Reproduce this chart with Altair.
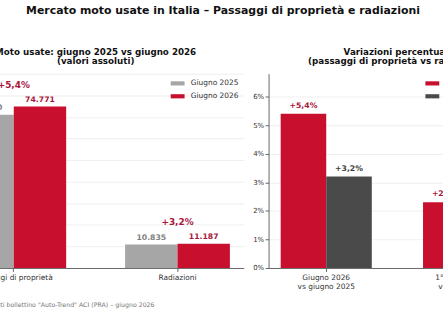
import altair as alt
import pandas as pd

FONT = "DejaVu Sans"

# --- Valori assoluti: moto usate, giugno 2025 vs giugno 2026 ---
categorie = ["Passaggi di proprietà", "Radiazioni"]
anni = ["Giugno 2025", "Giugno 2026"]
giugno_2025 = [70940, 10835]
giugno_2026 = [74771, 11187]
variazione_annua = [5.4, 3.2]

# --- Variazioni percentuali per periodo ---
periodi = ["Giugno 2026\nvs giugno 2025", "1° semestre 2026\nvs 1° sem. 2025"]
serie = ["Passaggi di proprietà", "Radiazioni"]
var_passaggi = [5.4, 2.3]
var_radiazioni = [3.2, 1.9]

# axis ticks
tick_abs = [0, 10000, 20000, 30000, 40000, 50000, 60000, 70000, 80000, 90000]
tick_pct = [0, 1, 2, 3, 4, 5, 6]

TITOLO = "Mercato moto usate in Italia – Passaggi di proprietà e radiazioni"
FONTE = 'Fonte: elaborazione su dati bollettino "Auto-Trend" ACI (PRA) – giugno 2026'

RED = "#C8102E"
GRAY = "#A6A6A6"
DARK = "#4A4A4A"
LABEL_RED = "#A8163B"
LABEL_GRAY = "#7F7F7F"
LABEL_DARK = "#404040"


def fmt_int(v):
    return f"{v:,}".replace(",", ".")


def fmt_pct(v):
    return ("+" if v >= 0 else "") + f"{v:.1f}".replace(".", ",") + "%"


# tables built from the arrays above
df_abs = pd.DataFrame({
    "categoria": categorie * 2,
    "anno": [anni[0]] * 2 + [anni[1]] * 2,
    "valore": giugno_2025 + giugno_2026,
})
df_abs["etichetta"] = df_abs["valore"].map(fmt_int)

df_var_abs = pd.DataFrame({
    "categoria": categorie,
    "cima": [max(a, b) for a, b in zip(giugno_2025, giugno_2026)],
    "etichetta": [fmt_pct(v) for v in variazione_annua],
})

df_pct = pd.DataFrame({
    "periodo": periodi * 2,
    "serie": [serie[0]] * 2 + [serie[1]] * 2,
    "variazione": var_passaggi + var_radiazioni,
})
df_pct["etichetta"] = df_pct["variazione"].map(fmt_pct)

PANEL_H = 196
SYMBOL = "M-2,-0.6L2,-0.6L2,0.6L-2,0.6Z"


def legend_style(lx, ly):
    return dict(
        title=None, orient="none", legendX=lx, legendY=ly, padding=0,
        symbolType=SYMBOL, symbolSize=49, symbolStrokeWidth=0,
        labelOffset=9.5, rowPadding=4, labelFontSize=7.5,
        labelColor="#333333", labelFont=FONT,
    )


# ---------------- left panel: absolute values ----------------
x_left = alt.X(
    "categoria:N", sort=categorie, title=None,
    scale=alt.Scale(paddingInner=0.36, paddingOuter=0.085),
    axis=alt.Axis(labelAngle=0, grid=False, ticks=True, domain=True, labelPadding=2),
)
xo_left = alt.XOffset("anno:N", sort=anni, scale=alt.Scale(paddingInner=0, paddingOuter=0))
y_left = alt.Y(
    "valore:Q", title=None,
    scale=alt.Scale(domain=[0, 90000], nice=False),
    axis=alt.Axis(values=tick_abs, tickCount=len(tick_abs), labels=False, ticks=False,
                  domain=False, grid=True),
)

bars_left = alt.Chart(df_abs).mark_bar().encode(
    x=x_left, xOffset=xo_left, y=y_left,
    color=alt.Color("anno:N", sort=anni,
                    scale=alt.Scale(domain=anni, range=[GRAY, RED]),
                    legend=alt.Legend(**legend_style(228.5, 6))),
)
values_left = alt.Chart(df_abs).mark_text(
    dy=-7, baseline="middle", fontSize=7.8, fontWeight="bold", font=FONT
).encode(
    x=x_left, xOffset=xo_left, y="valore:Q", text="etichetta:N",
    color=alt.condition(alt.datum.anno == anni[1], alt.value(LABEL_RED), alt.value(LABEL_GRAY)),
)
pct_left = alt.Chart(df_var_abs).mark_text(
    dy=-22, baseline="middle", fontSize=9, fontWeight="bold", font=FONT, color=LABEL_RED
).encode(x=alt.X("categoria:N", sort=categorie), y="cima:Q", text="etichetta:N")

note = alt.Chart(pd.DataFrame({"nota": [FONTE]})).mark_text(
    align="left", baseline="middle", fontSize=6.3, font=FONT, color="#777777"
).encode(x=alt.value(-28), y=alt.value(PANEL_H + 37), text="nota:N")

left = alt.layer(bars_left, values_left, pct_left, note).properties(
    width=299, height=PANEL_H,
    title=alt.TitleParams(["Moto usate: giugno 2025 vs giugno 2026", "(valori assoluti)"],
                          fontSize=8.8, font=FONT, fontWeight="bold", anchor="middle",
                          offset=8, lineHeight=9.5, color="#111111"),
)

# ---------------- right panel: percentage changes ----------------
x_right = alt.X(
    "periodo:N", sort=periodi, title=None,
    scale=alt.Scale(paddingInner=0.36, paddingOuter=0.085),
    axis=alt.Axis(labelAngle=0, grid=False, ticks=True, domain=True, labelPadding=2,
                  labelExpr="split(datum.label, '\\n')", labelLineHeight=9),
)
xo_right = alt.XOffset("serie:N", sort=serie, scale=alt.Scale(paddingInner=0, paddingOuter=0))
y_right = alt.Y(
    "variazione:Q", title=None,
    scale=alt.Scale(domain=[0, 6.8], nice=False),
    axis=alt.Axis(values=tick_pct, tickCount=len(tick_pct), labelExpr="datum.value + '%'",
                  grid=True, ticks=True, domain=True, labelFontSize=7, labelPadding=1.5),
)

bars_right = alt.Chart(df_pct).mark_bar().encode(
    x=x_right, xOffset=xo_right, y=y_right,
    color=alt.Color("serie:N", sort=serie,
                    scale=alt.Scale(domain=serie, range=[RED, DARK]),
                    legend=alt.Legend(**legend_style(161.5, 6))),
)
values_right = alt.Chart(df_pct).mark_text(
    dy=-8, baseline="middle", fontSize=7.8, fontWeight="bold", font=FONT
).encode(
    x=x_right, xOffset=xo_right, y="variazione:Q", text="etichetta:N",
    color=alt.condition(alt.datum.serie == serie[0], alt.value(LABEL_RED), alt.value(LABEL_DARK)),
)

right = alt.layer(bars_right, values_right).properties(
    width=260, height=PANEL_H,
    title=alt.TitleParams(["Variazioni percentuali", "(passaggi di proprietà vs radiazioni)"],
                          fontSize=8.8, font=FONT, fontWeight="bold", anchor="middle",
                          offset=8, lineHeight=9.5, color="#111111"),
)

chart = alt.hconcat(left, right, spacing=8).resolve_scale(
    color="independent", xOffset="independent", x="independent", y="independent"
).properties(
    title=alt.TitleParams(TITOLO, fontSize=11, font=FONT, fontWeight="bold",
                          anchor="middle", offset=32, color="#111111"),
    padding={"left": -81, "right": -84, "top": 3, "bottom": 0},
).configure(font=FONT).configure_view(stroke=None).configure_axis(
    labelFont=FONT, labelFontSize=7.5, labelColor="#333333",
    tickColor="#666666", tickSize=3.5, domainColor="#666666", domainWidth=1,
    gridColor="#EBEBEB", gridWidth=0.8,
)

chart.save("out.html", embed_options={"renderer": "svg", "actions": False})
